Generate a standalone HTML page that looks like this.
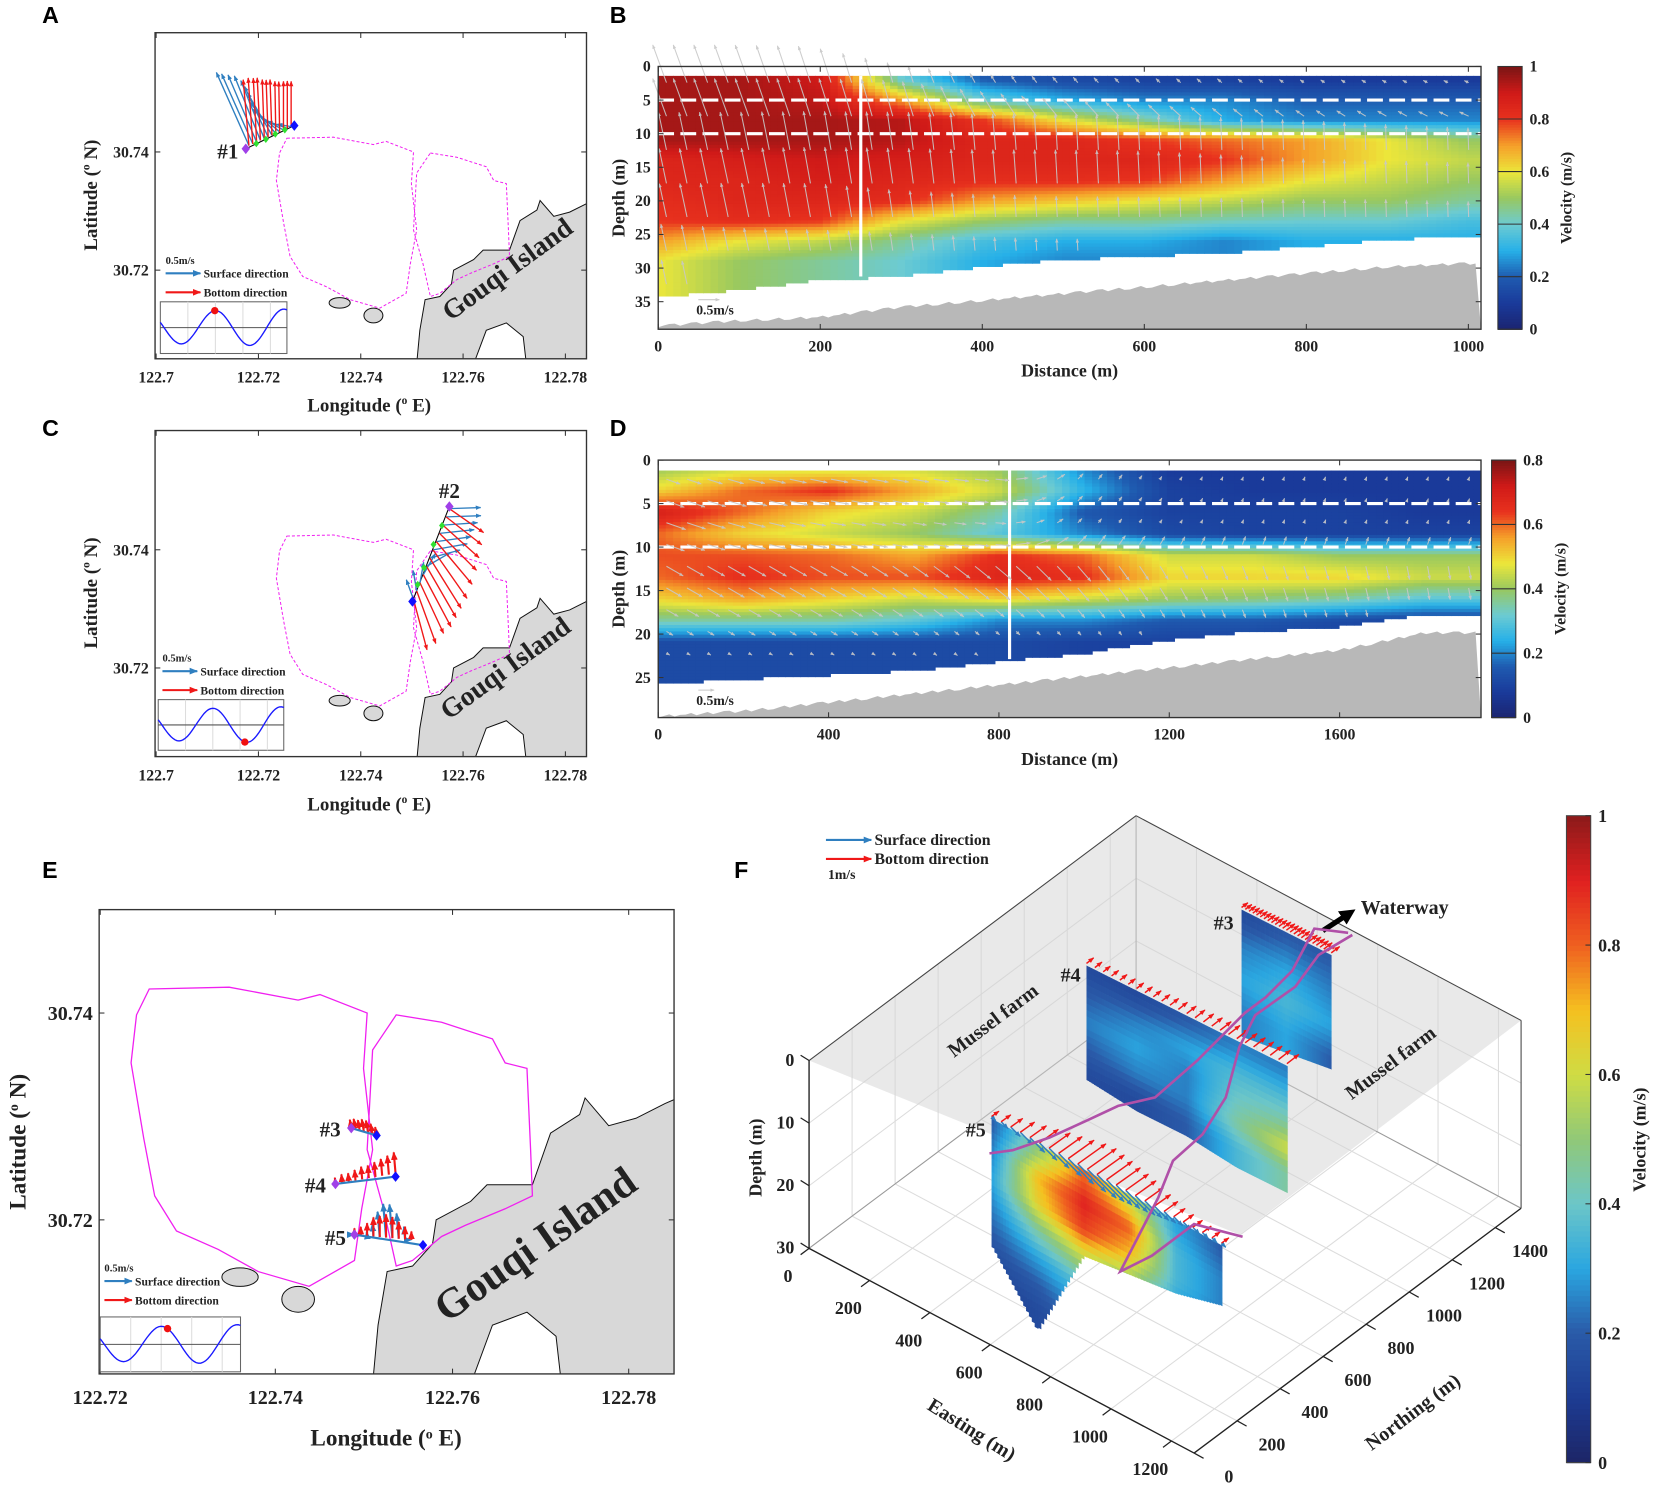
<!DOCTYPE html>
<html><head><meta charset="utf-8">
<style>
html,body{margin:0;padding:0;background:#fff;}
svg{display:block;}
text{font-family:"Liberation Serif",serif;font-weight:bold;fill:#222;}
.pl{font-family:"Liberation Sans",sans-serif;font-weight:bold;font-size:22px;fill:#000;}
</style></head>
<body>
<svg id="fig" xmlns="http://www.w3.org/2000/svg" width="1654" height="1490" viewBox="0 0 1568 1412" preserveAspectRatio="none">
<defs>
<marker id="mb" viewBox="0 0 10 10" refX="9" refY="5" markerWidth="4" markerHeight="4" orient="auto"><path d="M0,1 L10,5 L0,9 z" fill="#2f7fc0"/></marker>
<marker id="mr" viewBox="0 0 10 10" refX="9" refY="5" markerWidth="4" markerHeight="4" orient="auto"><path d="M0,1 L10,5 L0,9 z" fill="#f01818"/></marker>
<marker id="mg" viewBox="0 0 10 10" refX="9" refY="5" markerWidth="4" markerHeight="4" orient="auto"><path d="M0,1 L10,5 L0,9 z" fill="#c8c8c8"/></marker>
<marker id="mk" viewBox="0 0 10 10" refX="6" refY="5" markerWidth="3" markerHeight="3" orient="auto"><path d="M0,0 L10,5 L0,10 z" fill="#000"/></marker>
<clipPath id="clipA"><rect x="147" y="31" width="409" height="309"/></clipPath>
<clipPath id="clipC"><rect x="147" y="408" width="409" height="309"/></clipPath>
<clipPath id="clipE"><rect x="94" y="862" width="545" height="440"/></clipPath>
<clipPath id="clipB"><rect x="624" y="63" width="780" height="249"/></clipPath>
<clipPath id="clipD"><rect x="624" y="436" width="780" height="244"/></clipPath>
</defs>

<text class="pl" x="40" y="22">A</text>
<text class="pl" x="578" y="22">B</text>
<text class="pl" x="40" y="413">C</text>
<text class="pl" x="578" y="413">D</text>
<text class="pl" x="40" y="832">E</text>
<text class="pl" x="696" y="832">F</text>

<g id="panelA"></g>
<g id="panelC"></g>
<g id="panelE"></g>
<g id="panelB"></g>
<g id="panelD"></g>
<g id="panelF"></g>
</svg>

<script>
// ---------------- DATA ----------------
const bDist=[0,100,200,300,400,500,600,700,800,900,1000];
const bDepth=[2,5,8,11,14,17,20,23,26,29,32];
const bVel=[
[0.95,0.95,0.9,0.4,0.2,0.15,0.12,0.12,0.1,0.1,0.1],
[0.95,0.95,0.92,0.7,0.4,0.3,0.25,0.25,0.2,0.2,0.2],
[0.95,0.95,0.95,0.93,0.8,0.6,0.45,0.3,0.25,0.25,0.25],
[0.95,0.95,0.95,0.93,0.85,0.85,0.8,0.75,0.7,0.6,0.5],
[0.85,0.88,0.9,0.88,0.85,0.85,0.85,0.8,0.7,0.6,0.55],
[0.85,0.85,0.88,0.85,0.82,0.82,0.8,0.7,0.6,0.55,0.5],
[0.82,0.85,0.85,0.82,0.7,0.65,0.6,0.55,0.5,0.5,0.45],
[0.8,0.82,0.8,0.6,0.5,0.45,0.45,0.42,0.4,0.4,0.35],
[0.7,0.6,0.55,0.45,0.35,0.3,0.3,0.25,0.3,0.3,0.3],
[0.6,0.5,0.45,0.4,0.3,0.25,0.25,0.25,0.3,0.3,0.3],
[0.6,0.5,0.45,0.4,0.3,0.25,0.25,0.25,0.3,0.3,0.3]];
const bBottom=[34,33,31.5,31,29.5,28.5,28,27.5,26.5,25.5,25];
const bSeabed=[38.8,38,37.5,36,35,34,33,32,31,30,29.5];
const bUpperAngle=[-20,-20,-18,-15,-30,-40,-45,-50,-55,-60,-65];
const bLowerAngle=[-12,-12,-10,-8,-5,-3,-3,-2,-2,-2,-2];
const bXTicks=[0,200,400,600,800,1000];
const bYTicks=[0,5,10,15,20,25,30,35];
const bCbTicks=[0,0.2,0.4,0.6,0.8,1];

const dDist=[0,200,400,600,800,1000,1200,1400,1600,1800];
const dDepth=[1,3.5,6,8.5,11,13.5,16,18.5,21,23.5];
const dVel=[
[0.4,0.45,0.45,0.45,0.4,0.2,0.08,0.08,0.08,0.08],
[0.5,0.6,0.65,0.55,0.45,0.25,0.1,0.08,0.08,0.08],
[0.7,0.6,0.5,0.45,0.35,0.15,0.1,0.1,0.1,0.08],
[0.6,0.5,0.45,0.4,0.3,0.2,0.12,0.1,0.1,0.1],
[0.62,0.62,0.6,0.55,0.65,0.6,0.45,0.45,0.4,0.4],
[0.6,0.65,0.62,0.62,0.68,0.65,0.5,0.5,0.5,0.45],
[0.5,0.55,0.5,0.45,0.5,0.45,0.4,0.38,0.35,0.3],
[0.35,0.35,0.35,0.3,0.2,0.2,0.15,0.15,0.12,0.1],
[0.12,0.12,0.12,0.12,0.12,0.1,0.1,0.1,0.1,0.1],
[0.12,0.12,0.12,0.12,0.12,0.1,0.1,0.1,0.1,0.1]];
const dBottom=[25.5,25,24.5,24,23,22,20.5,19.5,19,17.5];
const dSeabed=[29.6,29,28,27,26,25,24,23,22,20];
const dUpperAngle=[110,105,100,100,95,40,30,20,20,20];
const dLowerAngle=[120,120,120,125,130,140,150,160,165,170];
const dXTicks=[0,400,800,1200,1600];
const dYTicks=[0,5,10,15,20,25];
const dCbTicks=[0,0.2,0.4,0.6,0.8];

const aSurfLen=[1.15,1.1,1.05,1.0,0.9,0.8,0.7,0.6,0.5,0.4,0.3,0.2];
const aSurfAng=[-24,-24,-23,-22,-22,-25,-30,-40,-50,-60,-70,-80];
const aBotLen=[0.95,0.95,0.92,0.9,0.85,0.82,0.8,0.75,0.72,0.7,0.68,0.65];
const aBotAng=[-5,-4,-3,-3,-2,-2,-2,-1,-1,0,0,0];
const cSurfLen=[0.45,0.5,0.5,0.5,0.5,0.5,0.45,0.4,0.35,0.3,0.3,0.3];
const cSurfAng=[88,88,86,84,82,80,75,60,30,10,-10,-20];
const cBotLen=[0.6,0.65,0.7,0.75,0.8,0.85,0.85,0.85,0.85,0.8,0.8,0.75];
const cBotAng=[125,128,132,135,140,145,148,150,152,155,160,165];
const e3Bot=[0.2,0.25,0.25,0.3,0.3,0.25,0.2];
const e4Bot=[0.15,0.2,0.2,0.25,0.3,0.3,0.35,0.4,0.45,0.5];
const e5Bot=[0.15,0.2,0.3,0.45,0.5,0.55,0.5,0.4,0.3,0.2];
const e5Surf=[0.0,0.0,0.1,0.3,0.6,0.8,0.8,0.6,0.3,0.0];

const f3Vel=[[0.15,0.2,0.2],[0.25,0.3,0.25],[0.3,0.35,0.3],[0.25,0.3,0.2]];
const f3Depth=[1,6,11,16];
const f3Bottom=[20,19,18];
const f4Vel=[[0.15,0.15,0.2,0.25,0.25],[0.2,0.25,0.3,0.35,0.35],[0.25,0.3,0.25,0.4,0.45],[0.2,0.25,0.25,0.45,0.6],[0.15,0.15,0.2,0.35,0.45]];
const f4Depth=[1,5,9,13,17];
const f4Bottom=[18,19,19,20,20];
const f5Vel=[[0.2,0.5,0.8,0.6,0.3,0.2],[0.25,0.7,0.9,0.8,0.35,0.25],[0.3,0.65,0.85,0.7,0.35,0.25],[0.25,0.45,0.6,0.5,0.3,0.2],[0.2,0.3,0.4,0.35,0.2,0.15],[0.15,0.2,0.3,0.2,0.15,0.1],[0.12,0.15,0.2,0.15,0.1,0.1]];
const f5Depth=[1,5,9,13,17,21,25];
const f5Bottom=[19,28,13,12,11,9];
const fEastTicks=[0,200,400,600,800,1000,1200];
const fNorthTicks=[0,200,400,600,800,1000,1200,1400];
const fDepthTicks=[0,10,20,30];
const fCbTicks=[0,0.2,0.4,0.6,0.8,1];

// ---------------- HELPERS ----------------
const NS='http://www.w3.org/2000/svg';
function mk(tag,parent){const e=document.createElementNS(NS,tag);parent.appendChild(e);return e;}
function txt(parent,x,y,s,size,anchor,rot){
  const t=mk('text',parent);t.setAttribute('x',x);t.setAttribute('y',y);
  t.setAttribute('font-size',size);t.setAttribute('text-anchor',anchor||'middle');
  if(rot!==undefined)t.setAttribute('transform','rotate('+rot+' '+x+' '+y+')');
  t.textContent=s;return t;}
function lerpC(stops,v){v=Math.max(0,Math.min(1,v));
  for(let i=1;i<stops.length;i++){if(v<=stops[i][0]){const a=stops[i-1],b=stops[i],f=(v-a[0])/(b[0]-a[0]);
    const ca=hex(a[1]),cb=hex(b[1]);return 'rgb('+ca.map((c,k)=>Math.round(c+(cb[k]-c)*f)).join(',')+')';}}
  return stops[stops.length-1][1];}
function hex(h){return [parseInt(h.substr(1,2),16),parseInt(h.substr(3,2),16),parseInt(h.substr(5,2),16)];}
const jetS=[[0,'#1b2470'],[0.1,'#1a3a9a'],[0.2,'#1f5bb0'],[0.3,'#26b0e8'],[0.4,'#6ccbd2'],[0.5,'#98c860'],[0.6,'#ece63a'],[0.7,'#f5a02a'],[0.8,'#e8321e'],[0.9,'#d01a18'],[1,'#7a1515']];
const fS=[[0,'#1d2566'],[0.1,'#1d3c92'],[0.2,'#2a5aa8'],[0.3,'#2aa6e0'],[0.4,'#6cc6c8'],[0.5,'#90c878'],[0.6,'#cfdc44'],[0.7,'#f5c020'],[0.8,'#ef6020'],[0.9,'#e02020'],[1,'#8b1a1a']];
function interp1(xs,ys,x){if(x<=xs[0])return ys[0];for(let i=1;i<xs.length;i++){if(x<=xs[i]){const f=(x-xs[i-1])/(xs[i]-xs[i-1]);return ys[i-1]+f*(ys[i]-ys[i-1]);}}return ys[ys.length-1];}
function bil(xs,zs,grid,x,z){const col=zs.map((zz,j)=>interp1(xs,grid[j],x));return interp1(zs,col,z);}

// ---------------- MAPS ----------------
const farmL=[[272,131],[316,130],[354,137],[366,134],[392,144],[390,174],[395,218],[389,250],[385,278],[360,292],[332,284],[310,272],[287,262],[275,243],[269,212],[262,171],[265,145]];
const farmR=[[408,145],[433,149],[461,158],[468,171],[480,174],[482,218],[483,243],[468,250],[446,259],[433,265],[417,278],[408,281],[401,250],[392,218],[395,164]];
const island=[[395,345],[398,313],[403,284],[417,281],[428,269],[430,256],[449,246],[458,237],[483,237],[493,209],[509,199],[512,190],[525,205],[540,201],[556,193],[575,185],[575,345]];
const bay=[[449,345],[461,313],[480,306],[496,319],[499,345]];
function pts(a){return a.map(p=>p.join(',')).join(' ');}
function drawMap(g,box,tr,dashed,clip,ticksX,ticksY,fs,lab){
  const [x0,y0,w,h]=box;
  const cg=mk('g',g);cg.setAttribute('clip-path','url(#'+clip+')');
  const gg=mk('g',cg);gg.setAttribute('transform',tr);
  let p=mk('polygon',gg);p.setAttribute('points',pts(island));p.setAttribute('fill','#d8d8d8');p.setAttribute('stroke','#111');p.setAttribute('stroke-width','1');p.setAttribute('vector-effect','non-scaling-stroke');
  
  p=mk('polygon',gg);p.setAttribute('points',pts(bay));p.setAttribute('fill','#fff');p.setAttribute('stroke','#111');p.setAttribute('stroke-width','1');p.setAttribute('vector-effect','non-scaling-stroke');
  
  [[322,287,10,5],[354,299,9,7]].forEach(c=>{const e=mk('ellipse',gg);e.setAttribute('cx',c[0]);e.setAttribute('cy',c[1]);e.setAttribute('rx',c[2]);e.setAttribute('ry',c[3]);e.setAttribute('fill','#d8d8d8');e.setAttribute('stroke','#111');e.setAttribute('vector-effect','non-scaling-stroke');
    });
  [farmL,farmR].forEach((f,i)=>{const q=mk('polygon',gg);q.setAttribute('points',pts(f));q.setAttribute('fill','none');q.setAttribute('stroke','#f020f0');q.setAttribute('stroke-width',dashed?'1':'1.3');q.setAttribute('vector-effect','non-scaling-stroke');if(dashed)q.setAttribute('stroke-dasharray','3 2');
    });
  const fr=mk('rect',g);fr.setAttribute('x',x0);fr.setAttribute('y',y0);fr.setAttribute('width',w);fr.setAttribute('height',h);fr.setAttribute('fill','none');fr.setAttribute('stroke','#333');fr.setAttribute('stroke-width','1.3');
  
  ticksX.forEach(t=>{[[y0+h,-5],[y0,5]].forEach(s=>{const l=mk('line',g);l.setAttribute('x1',t[1]);l.setAttribute('x2',t[1]);l.setAttribute('y1',s[0]);l.setAttribute('y2',s[0]+s[1]);l.setAttribute('stroke','#333');});
    const tt=txt(g,t[1],y0+h+fs*1.5,t[0],fs);});
  ticksY.forEach(t=>{[[x0,5],[x0+w,-5]].forEach(s=>{const l=mk('line',g);l.setAttribute('y1',t[1]);l.setAttribute('y2',t[1]);l.setAttribute('x1',s[0]);l.setAttribute('x2',s[0]+s[1]);l.setAttribute('stroke','#333');});
    const tt=txt(g,x0-6,t[1]+fs*0.35,t[0],fs,'end');});
  const xl=txt(g,lab[0],lab[1],'',lab[4]);xl.innerHTML='Longitude (<tspan font-size="'+(lab[4]*0.6)+'" dy="-7">o</tspan><tspan dy="7"> E)</tspan>';
  
  const yl=txt(g,lab[2],lab[3],'',lab[4],'middle',-90);yl.innerHTML='Latitude (<tspan font-size="'+(lab[4]*0.6)+'" dy="-7">o</tspan><tspan dy="7"> N)</tspan>';
  
}
function legendMap(g,x,y,fs,alen){
  let t=txt(g,x,y,'0.5m/s',fs,'start');
  let l=mk('line',g);l.setAttribute('x1',x);l.setAttribute('x2',x+alen);l.setAttribute('y1',y+9);l.setAttribute('y2',y+9);l.setAttribute('stroke','#2f7fc0');l.setAttribute('stroke-width','2');l.setAttribute('marker-end','url(#mb)');
  
  t=txt(g,x+alen+3,y+13,'Surface direction',fs+1,'start');
  l=mk('line',g);l.setAttribute('x1',x);l.setAttribute('x2',x+alen);l.setAttribute('y1',y+27);l.setAttribute('y2',y+27);l.setAttribute('stroke','#f01818');l.setAttribute('stroke-width','2');l.setAttribute('marker-end','url(#mr)');
  
  t=txt(g,x+alen+3,y+31,'Bottom direction',fs+1,'start');
}
function tideInset(g,x,y,w,h,dotF){
  const r=mk('rect',g);r.setAttribute('x',x);r.setAttribute('y',y);r.setAttribute('width',w);r.setAttribute('height',h);r.setAttribute('fill','#fff');r.setAttribute('stroke','#666');
  
  for(let i=1;i<5;i++){const l=mk('line',g);l.setAttribute('x1',x+w*i/4.6);l.setAttribute('x2',x+w*i/4.6);l.setAttribute('y1',y);l.setAttribute('y2',y+h);l.setAttribute('stroke','#ddd');}
  const m=mk('line',g);m.setAttribute('x1',x);m.setAttribute('x2',x+w);m.setAttribute('y1',y+h*0.5);m.setAttribute('y2',y+h*0.5);m.setAttribute('stroke','#555');
  let d='';const f=u=>y+h*0.5-h*0.36*(0.85+0.15*u)*Math.sin(2*Math.PI*(u*1.85)+2.8);
  for(let i=0;i<=60;i++){const u=i/60;d+=(i?'L':'M')+(x+u*w).toFixed(1)+','+f(u).toFixed(1);}
  const p=mk('path',g);p.setAttribute('d',d);p.setAttribute('fill','none');p.setAttribute('stroke','#1a1aff');p.setAttribute('stroke-width','1.3');
  
  const c=mk('circle',g);c.setAttribute('cx',x+dotF*w);c.setAttribute('cy',f(dotF));c.setAttribute('r','3.5');c.setAttribute('fill','#f01010');
  
}
function arrowSet(g,p0,p1,lens,angs,scale,color,marker,w,name){
  lens.forEach((L,i)=>{const f=i/(lens.length-1);const x=p0[0]+(p1[0]-p0[0])*f,y=p0[1]+(p1[1]-p0[1])*f;
    const a=angs[i]*Math.PI/180;const l=mk('line',g);l.setAttribute('x1',x);l.setAttribute('y1',y);
    l.setAttribute('x2',x+Math.sin(a)*L*scale);l.setAttribute('y2',y-Math.cos(a)*L*scale);
    l.setAttribute('stroke',color);l.setAttribute('stroke-width',w);l.setAttribute('marker-end','url(#'+marker+')');
    
    });
}
function diamond(g,x,y,s,c,name){const p=mk('polygon',g);p.setAttribute('points',[x,y-s,x+s*0.8,y,x,y+s,x-s*0.8,y].join(' '));p.setAttribute('fill',c);
  
  }
function purple(g,x,y,s,fs){const t=txt(g,x,y,s,fs);t.setAttribute('fill','#a040e8');return t;}

const lonT=[['122.7',148],['122.72',245],['122.74',342],['122.76',439],['122.78',536]];
(function(){const g=document.getElementById('panelA');
  drawMap(g,[147,31,409,309],'translate(0,0)',true,'clipA',lonT,[['30.74',144],['30.72',256]],15,[350,390,92,185,18]);
  const gi=txt(g,486,262,'Gouqi Island',26,'middle',-36);gi.setAttribute('fill','#000');
  const tr=mk('line',g);tr.setAttribute('x1',233);tr.setAttribute('y1',141);tr.setAttribute('x2',279);tr.setAttribute('y2',119);tr.setAttribute('stroke','#000');
  arrowSet(g,[236,138],[276,120],aSurfLen,aSurfAng,66,'#2f7fc0','mb',1.3,'surface-arrow');
  arrowSet(g,[236,138],[276,120],aBotLen,aBotAng,66,'#f01818','mr',1.3,'bottom-arrow');
  [[243,136],[252,132],[261,127],[270,123]].forEach(p=>diamond(g,p[0],p[1],3.5,'#30e030','waypoint'));
  diamond(g,233,141,5,'#a040e8','start-marker');diamond(g,279,119,5,'#1010ff','end-marker');
  purple(g,216,150,'#1',20);
  legendMap(g,157,250,10,33);tideInset(g,152,286,120,49,0.43);
})();
(function(){const g=document.getElementById('panelC');
  drawMap(g,[147,408,409,309],'translate(0,377)',true,'clipC',lonT,[['30.74',521],['30.72',633]],15,[350,768,92,562,18]);
  const gi=txt(g,484,640,'Gouqi Island',26,'middle',-36);gi.setAttribute('fill','#000');
  const tr=mk('line',g);tr.setAttribute('x1',426);tr.setAttribute('y1',480);tr.setAttribute('x2',391);tr.setAttribute('y2',570);tr.setAttribute('stroke','#000');
  arrowSet(g,[426,482],[392,568],cSurfLen,cSurfAng,66,'#2f7fc0','mb',1.3,'surface-arrow');
  arrowSet(g,[426,482],[392,568],cBotLen,cBotAng,66,'#f01818','mr',1.3,'bottom-arrow');
  [[419,498],[411,516],[402,538],[396,554]].forEach(p=>diamond(g,p[0],p[1],3.5,'#30e030','waypoint'));
  diamond(g,426,480,5,'#a040e8','start-marker');diamond(g,391,570,5,'#1010ff','end-marker');
  purple(g,426,472,'#2',20);
  legendMap(g,154,627,10,33);tideInset(g,150,663,119,48,0.69);
})();
(function(){const g=document.getElementById('panelE');
  drawMap(g,[94,862,545,440],'matrix(1.7216,0,0,1.75,-326.8,708)',false,'clipE',[['122.72',95],['122.74',261],['122.76',429],['122.78',596]],[['30.74',960],['30.72',1156]],19,[366,1370,24,1082,22]);
  const gi=txt(g,515,1190,'Gouqi Island',40,'middle',-35);gi.setAttribute('fill','#000');
  const z=e3Bot.map(()=>-10), z4=e4Bot.map(()=>-5), z5=e5Bot.map(()=>0), s5=e5Surf.map(()=>-5);
  arrowSet(g,[333,1069],[357,1076],e3Bot,z,40,'#f01818','mr',2,'bottom-arrow');
  arrowSet(g,[318,1122],[375,1112],e4Bot,z4,40,'#f01818','mr',2,'bottom-arrow');
  arrowSet(g,[336,1170],[390,1175],e5Surf,s5,40,'#2f7fc0','mb',2,'surface-arrow');
  arrowSet(g,[336,1170],[390,1175],e5Bot,z5,40,'#f01818','mr',2,'bottom-arrow');
  [[[333,1069],[357,1076]],[[318,1122],[375,1115]],[[336,1170],[401,1180]]].forEach(s=>{const l=mk('line',g);l.setAttribute('x1',s[0][0]);l.setAttribute('y1',s[0][1]);l.setAttribute('x2',s[1][0]);l.setAttribute('y2',s[1][1]);l.setAttribute('stroke','#2f7fc0');l.setAttribute('stroke-width','2');
    diamond(g,s[0][0],s[0][1],5,'#a040e8','start-marker');diamond(g,s[1][0],s[1][1],5,'#1010ff','end-marker');});
  purple(g,313,1077,'#3',20);purple(g,299,1130,'#4',20);purple(g,318,1180,'#5',20);
  legendMap(g,99,1205,10,26);tideInset(g,95,1248,133,52,0.48);
})();

function section(g,cfg){
  const {x0,y0,w,h,dmax,zmax,dist,depth,vel,bottom,seabed,vmax,ztop,clip,up,lo,xt,yt,cb,cbx,cby,cbh,vlineD}=cfg;
  const X=d=>x0+d/dmax*w, Y=z=>y0+z/zmax*h;
  const hg=mk('g',g);hg.setAttribute('clip-path','url(#'+clip+')');
  
  const dd=dmax/110, dz=zmax/80;
  for(let d=0;d<dmax;d+=dd){const bt=interp1(dist,bottom,d+dd/2);
    for(let z=ztop;z<bt;z+=dz){const v=bil(dist,depth,vel,d+dd/2,z+dz/2);
      const r=mk('rect',hg);r.setAttribute('x',X(d).toFixed(1));r.setAttribute('y',Y(z).toFixed(1));r.setAttribute('width',(X(dd)-x0+0.6).toFixed(1));r.setAttribute('height',(Y(dz)-y0+0.6).toFixed(1));r.setAttribute('fill',lerpC(jetS,v/vmax));
      
      }}
  let sp='M'+x0+','+(y0+h);for(let d=0;d<=dmax;d+=dmax/150){sp+=' L'+X(d).toFixed(1)+','+(Y(interp1(dist,seabed,d))-((Math.round(d)%3)*1.2)).toFixed(1);}sp+=' L'+(x0+w)+','+(y0+h)+'Z';
  const sb=mk('path',hg);sb.setAttribute('d',sp);sb.setAttribute('fill','#b8b8b8');
  
  [5,10].forEach(z=>{const l=mk('line',hg);l.setAttribute('x1',x0);l.setAttribute('x2',x0+w);l.setAttribute('y1',Y(z));l.setAttribute('y2',Y(z));l.setAttribute('stroke','#fff');l.setAttribute('stroke-width','3');l.setAttribute('stroke-dasharray','15 6');
    });
  const vl=mk('line',hg);vl.setAttribute('x1',X(vlineD));vl.setAttribute('x2',X(vlineD));vl.setAttribute('y1',Y(ztop));vl.setAttribute('y2',Y(interp1(dist,bottom,vlineD)));vl.setAttribute('stroke','#fff');vl.setAttribute('stroke-width','3');
  
  const ag=mk('g',g);
  for(let d=dmax*0.01;d<dmax;d+=dmax/40){const bt=interp1(dist,bottom,d);
    for(let z=ztop+1;z<bt-1;z+=cfg.qz){const v=bil(dist,depth,vel,d,z);const a=(z<10?interp1(dist,up,d):interp1(dist,lo,d))*Math.PI/180;const L=v*cfg.qs;
      const x=X(d),y=Y(z);const l=mk('line',ag);l.setAttribute('x1',x.toFixed(1));l.setAttribute('y1',y.toFixed(1));l.setAttribute('x2',(x+Math.sin(a)*L).toFixed(1));l.setAttribute('y2',(y-Math.cos(a)*L).toFixed(1));
      l.setAttribute('stroke','#c8c8c8');l.setAttribute('stroke-width','1');l.setAttribute('opacity','0.9');l.setAttribute('marker-end','url(#mg)');
      
      }}
  const fr=mk('rect',g);fr.setAttribute('x',x0);fr.setAttribute('y',y0);fr.setAttribute('width',w);fr.setAttribute('height',h);fr.setAttribute('fill','none');fr.setAttribute('stroke','#333');fr.setAttribute('stroke-width','1.3');
  
  xt.forEach(t=>{[[y0+h,-5],[y0,5]].forEach(s=>{const l=mk('line',g);l.setAttribute('x1',X(t));l.setAttribute('x2',X(t));l.setAttribute('y1',s[0]);l.setAttribute('y2',s[0]+s[1]);l.setAttribute('stroke','#333');});
    const tt=txt(g,X(t),y0+h+21,String(t),15);});
  yt.forEach(t=>{[[x0,5],[x0+w,-5]].forEach(s=>{const l=mk('line',g);l.setAttribute('y1',Y(t));l.setAttribute('y2',Y(t));l.setAttribute('x1',s[0]);l.setAttribute('x2',s[0]+s[1]);l.setAttribute('stroke','#333');});
    const tt=txt(g,x0-7,Y(t)+5,String(t),15,'end');});
  let t=txt(g,x0+w/2,y0+h+45,'Distance (m)',17);
  t=txt(g,x0-32,y0+h/2,'Depth (m)',17,'middle',-90);
  t=txt(g,cfg.sx,cfg.sy,'0.5m/s',13,'start');
  const sl=mk('line',g);sl.setAttribute('x1',cfg.sx+2);sl.setAttribute('x2',cfg.sx+2+0.5*cfg.qs);sl.setAttribute('y1',cfg.sy-14);sl.setAttribute('y2',cfg.sy-14);sl.setAttribute('stroke','#c8c8c8');sl.setAttribute('marker-end','url(#mg)');
  const cg=mk('g',g);
  for(let i=0;i<100;i++){const r=mk('rect',cg);r.setAttribute('x',cbx);r.setAttribute('y',(cby+cbh*(1-(i+1)/100)).toFixed(2));r.setAttribute('width',23);r.setAttribute('height',(cbh/100+0.6).toFixed(2));r.setAttribute('fill',lerpC(jetS,(i+0.5)/100));}
  const cr=mk('rect',cg);cr.setAttribute('x',cbx);cr.setAttribute('y',cby);cr.setAttribute('width',23);cr.setAttribute('height',cbh);cr.setAttribute('fill','none');cr.setAttribute('stroke','#333');
  cb.forEach(v=>{const y=cby+cbh*(1-v/vmax);const l=mk('line',cg);l.setAttribute('x1',cbx);l.setAttribute('x2',cbx+23);l.setAttribute('y1',y);l.setAttribute('y2',y);l.setAttribute('stroke','#333');
    const tt=txt(cg,cbx+30,y+5,String(v),15,'start');});
  t=txt(g,cbx+70,cby+cbh/2,'Velocity (m/s)',15,'middle',-90);
}
section(document.getElementById('panelB'),{x0:624,y0:63,w:780,h:249,dmax:1015.6,zmax:39.1,dist:bDist,depth:bDepth,vel:bVel,bottom:bBottom,seabed:bSeabed,vmax:1,ztop:1.4,clip:'clipB',up:bUpperAngle,lo:bLowerAngle,xt:bXTicks,yt:bYTicks,cb:bCbTicks,cbx:1420,cby:63,cbh:249,vlineD:250,qz:5,qs:40,sx:660,sy:298});
section(document.getElementById('panelD'),{x0:624,y0:436,w:780,h:244,dmax:1932,zmax:29.6,dist:dDist,depth:dDepth,vel:dVel,bottom:dBottom,seabed:dSeabed,vmax:0.8,ztop:1.2,clip:'clipD',up:dUpperAngle,lo:dLowerAngle,xt:dXTicks,yt:dYTicks,cb:dCbTicks,cbx:1414,cby:436,cbh:244,vlineD:825,qz:2.5,qs:30,sx:660,sy:668});

(function(){const g=document.getElementById('panelF');
  const L=[767,1183],Ev=[365,194],Nv=[310,-232],Emax=1275,Nmax=1520,Dz=178/30;
  const P=(e,n,d)=>[L[0]+Ev[0]*e/Emax+Nv[0]*n/Nmax, L[1]+Ev[1]*e/Emax+Nv[1]*n/Nmax-(30-d)*Dz];
  const ln=(a,b,c,w,name)=>{const l=mk('line',g);l.setAttribute('x1',a[0]);l.setAttribute('y1',a[1]);l.setAttribute('x2',b[0]);l.setAttribute('y2',b[1]);l.setAttribute('stroke',c);l.setAttribute('stroke-width',w);
    
    return l;};
  fNorthTicks.concat([1520]).forEach(n=>{ln(P(0,n,30),P(Emax,n,30),'#dcdcdc',1,'floor-grid');ln(P(0,n,30),P(0,n,0),'#dcdcdc',1,'wall-grid');});
  fEastTicks.forEach(e=>{ln(P(e,0,30),P(e,Nmax,30),'#dcdcdc',1,'floor-grid');ln(P(e,Nmax,30),P(e,Nmax,0),'#dcdcdc',1,'wall-grid');});
  [10,20].forEach(d=>{ln(P(0,0,d),P(0,Nmax,d),'#dcdcdc',1,'wall-grid');ln(P(0,Nmax,d),P(Emax,Nmax,d),'#dcdcdc',1,'wall-grid');});
  ln(P(0,Nmax,30),P(0,Nmax,0),'#999',1,'back-edge');ln(P(0,Nmax,30),P(0,0,30),'#999',1,'floor-edge');ln(P(0,Nmax,30),P(Emax,Nmax,30),'#999',1,'floor-edge');
  const gp=mk('polygon',g);gp.setAttribute('points',pts([P(0,0,0),P(0,Nmax,0),P(Emax,Nmax,0),[1175,1170]]));gp.setAttribute('fill','#d4d4d4');gp.setAttribute('opacity','0.5');
  
  ln(P(0,0,0),P(0,Nmax,0),'#444',1,'box-edge');ln(P(0,Nmax,0),P(Emax,Nmax,0),'#444',1,'box-edge');
  ln(P(0,0,0),P(0,0,30),'#222',1.3,'depth-axis');ln(P(0,0,30),P(Emax,0,30),'#222',1.3,'easting-axis');ln(P(Emax,0,30),P(Emax,Nmax,30),'#222',1.3,'northing-axis');ln(P(Emax,Nmax,30),P(Emax,Nmax,0),'#444',1,'box-edge');
  fDepthTicks.forEach(d=>{const p=P(0,0,d);ln(p,[p[0]-8,p[1]-5],'#222',1.2,'tick');const t=txt(g,p[0]-14,p[1]+5,String(d),17,'end');});
  fEastTicks.forEach(e=>{const p=P(e,0,30);ln(p,[p[0]-8,p[1]+6],'#222',1.2,'tick');const t=txt(g,p[0]-20,p[1]+32,String(e),17);});
  fNorthTicks.forEach(n=>{const p=P(Emax,n,30);ln(p,[p[0]+9,p[1]+5],'#222',1.2,'tick');const t=txt(g,p[0]+33,p[1]+28,String(n),17);});
  let t=txt(g,722,1097,'Depth (m)',17,'middle',-90);
  t=txt(g,918,1360,'Easting (m)',19,'middle',32);
  t=txt(g,1343,1343,'Northing (m)',19,'middle',-37);
  t=txt(g,945,972,'Mussel farm',19,'middle',-37);
  t=txt(g,1322,1012,'Mussel farm',19,'middle',-37);
  t=txt(g,1290,866,'Waterway',19,'start');t.setAttribute('fill','#000');
  const wa=ln([1254,882],[1280,865],'#000',5,'waterway-arrow');wa.setAttribute('marker-end','url(#mk)');
  function slab(A,B,vel,depth,bottom,name,sc){
    const cols=vel[0].length, us=[];for(let i=0;i<cols;i++)us.push(i/(cols-1));
    const sg=mk('g',g);
    sg.setAttribute('transform','matrix('+(B[0]-A[0])+','+(B[1]-A[1])+',0,'+sc+','+A[0]+','+A[1]+')');
    const nu=80,dz=1;
    for(let i=0;i<nu;i++){const u=(i+0.5)/nu;const bt=interp1(us,bottom,u);
      for(let z=0;z<bt;z+=dz){const v=bil(us,depth,vel,u,z+0.5);const r=mk('rect',sg);r.setAttribute('x',(i/nu).toFixed(4));r.setAttribute('y',z);r.setAttribute('width',(1/nu+0.004).toFixed(4));r.setAttribute('height',Math.min(dz,bt-z)+0.05);r.setAttribute('fill',lerpC(fS,v));
        
        }}
    return sg;}
  slab([1177,862],[1262,905],f3Vel,f3Depth,f3Bottom,'section-3',6);
  slab([1030,915],[1220,1010],f4Vel,f4Depth,f4Bottom,'section-4',6);
  slab([940,1060],[1158,1180],f5Vel,f5Depth,f5Bottom,'section-5',6.3);
  function topArrows(A,B,vel,color,marker,dx,dy,name){const n=vel[0].length,us=[];for(let i=0;i<n;i++)us.push(i/(n-1));
    for(let k=0;k<=24;k++){const u=k/24;const v=interp1(us,vel[0],u);const x=A[0]+(B[0]-A[0])*u,y=A[1]+(B[1]-A[1])*u;
      const l=ln([x,y-2],[x+dx*v,y-2+dy*v],color,1.4,name);l.setAttribute('marker-end','url(#'+marker+')');}}
  topArrows([1177,862],[1262,905],f3Vel,'#f01818','mr',40,-30,'bottom-arrow');
  topArrows([1030,915],[1220,1010],f4Vel,'#f01818','mr',45,-35,'bottom-arrow');
  topArrows([940,1060],[1158,1180],f5Vel.map(r=>r.map(v=>Math.max(0,v-0.1))),'#2f7fc0','mb',40,40,'surface-arrow');
  topArrows([940,1060],[1158,1180],f5Vel,'#f01818','mr',35,-25,'bottom-arrow');
  purple(g,1160,881,'#3',19);purple(g,1015,930,'#4',19);purple(g,925,1077,'#5',19);
  [[[1278,884],[1246,880],[1225,920],[1200,945],[1180,960],[1150,990],[1135,1005],[1095,1040],[1060,1048],[1030,1062],[995,1078],[960,1090],[938,1093]],
   [[1282,886],[1250,905],[1228,935],[1190,962],[1175,992],[1162,1040],[1140,1075],[1112,1100],[1098,1135],[1080,1170],[1062,1205],[1092,1190],[1132,1160],[1178,1172]]].forEach(tp=>{
    const p=mk('polyline',g);p.setAttribute('points',pts(tp));p.setAttribute('fill','none');p.setAttribute('stroke','#b050a8');p.setAttribute('stroke-width','2.5');
    });
  let l=ln([783,796],[826,796],'#2f7fc0',2,'legend-surface-arrow');l.setAttribute('marker-end','url(#mb)');
  t=txt(g,829,801,'Surface direction',15,'start');
  l=ln([783,814],[826,814],'#f01818',2,'legend-bottom-arrow');l.setAttribute('marker-end','url(#mr)');
  t=txt(g,829,819,'Bottom direction',15,'start');
  t=txt(g,785,833,'1m/s',13,'start');
  const cg=mk('g',g);
  const cx=1485,cy=773,ch=613;
  for(let i=0;i<120;i++){const r=mk('rect',cg);r.setAttribute('x',cx);r.setAttribute('y',(cy+ch*(1-(i+1)/120)).toFixed(2));r.setAttribute('width',23);r.setAttribute('height',(ch/120+0.6).toFixed(2));r.setAttribute('fill',lerpC(fS,(i+0.5)/120));}
  const cr=mk('rect',cg);cr.setAttribute('x',cx);cr.setAttribute('y',cy);cr.setAttribute('width',23);cr.setAttribute('height',ch);cr.setAttribute('fill','none');cr.setAttribute('stroke','#444');
  fCbTicks.forEach(v=>{const y=cy+ch*(1-v);const q=mk('line',cg);q.setAttribute('x1',cx+18);q.setAttribute('x2',cx+23);q.setAttribute('y1',y);q.setAttribute('y2',y);q.setAttribute('stroke','#333');
    const tt=txt(cg,cx+30,y+6,String(v),17,'start');});
  t=txt(g,1560,1080,'Velocity (m/s)',17,'middle',-90);
})();
</script>
</body></html>
